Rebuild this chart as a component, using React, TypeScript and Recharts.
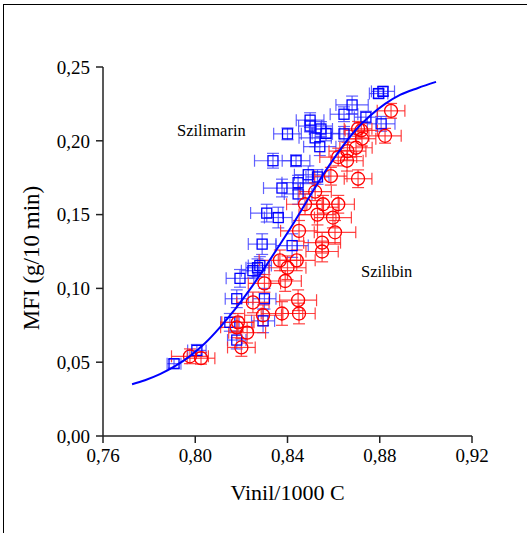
import React from 'react'
import { ScatterChart, Scatter, XAxis, YAxis, ErrorBar } from 'recharts'

// Szilimarin (kék négyzetek)
const blueX = [0.8814, 0.8795, 0.868, 0.8498, 0.8498, 0.84, 0.852, 0.8545, 0.8567, 0.854, 0.8645, 0.8645, 0.874, 0.8806,
  0.8337, 0.8437, 0.849, 0.8376, 0.8446, 0.8446, 0.853, 0.831, 0.836, 0.829, 0.842, 0.827, 0.8194, 0.818, 0.83, 0.815,
  0.8294, 0.818, 0.7908, 0.8007, 0.828, 0.825]
const blueY = [0.2335, 0.232, 0.2243, 0.214, 0.21, 0.2047, 0.202, 0.208, 0.205, 0.196, 0.218, 0.2047, 0.216, 0.2115,
  0.1865, 0.1865, 0.177, 0.168, 0.1716, 0.164, 0.1755, 0.151, 0.148, 0.13, 0.129, 0.114, 0.1068, 0.093, 0.093, 0.077,
  0.078, 0.065, 0.049, 0.058, 0.1155, 0.112]
const blueEx = [0.005, 0.004, 0.007, 0.006, 0.005, 0.006, 0.007, 0.005, 0.006, 0.007, 0.006, 0.005, 0.005, 0.006,
  0.008, 0.006, 0.006, 0.008, 0.007, 0.006, 0.005, 0.007, 0.006, 0.006, 0.007, 0.005, 0.006, 0.005, 0.005, 0.004,
  0.005, 0.004, 0.003, 0.004, 0.005, 0.005]
const blueEy = [0.003, 0.003, 0.006, 0.005, 0.004, 0.004, 0.006, 0.005, 0.005, 0.006, 0.005, 0.005, 0.004, 0.005,
  0.005, 0.004, 0.006, 0.006, 0.005, 0.007, 0.005, 0.006, 0.007, 0.007, 0.008, 0.006, 0.006, 0.006, 0.007, 0.006,
  0.008, 0.006, 0.003, 0.004, 0.006, 0.005]

// Szilibin (piros körök)
const redX = [0.8849, 0.8823, 0.8706, 0.872, 0.8723, 0.8697, 0.866, 0.862, 0.8658, 0.8588, 0.852, 0.8476, 0.8554,
  0.862, 0.853, 0.8597, 0.8606, 0.845, 0.855, 0.855, 0.844, 0.8367, 0.84, 0.839, 0.83, 0.8446, 0.825, 0.8376, 0.845,
  0.8294, 0.8185, 0.8225, 0.818, 0.82, 0.7977, 0.8025, 0.8706]
const redY = [0.2203, 0.2034, 0.1743, 0.207, 0.2014, 0.1953, 0.193, 0.189, 0.1865, 0.176, 0.1655, 0.157, 0.157,
  0.157, 0.15, 0.148, 0.138, 0.139, 0.131, 0.125, 0.119, 0.119, 0.114, 0.105, 0.1034, 0.092, 0.0905, 0.083, 0.083,
  0.0818, 0.077, 0.07, 0.0736, 0.06, 0.054, 0.0527, 0.2081]
const redEx = [0.006, 0.007, 0.006, 0.007, 0.006, 0.007, 0.008, 0.008, 0.007, 0.007, 0.007, 0.008, 0.007,
  0.007, 0.008, 0.008, 0.009, 0.008, 0.008, 0.007, 0.008, 0.009, 0.008, 0.007, 0.007, 0.008, 0.007, 0.009, 0.007,
  0.008, 0.007, 0.008, 0.007, 0.006, 0.008, 0.006, 0.006]
const redEy = [0.005, 0.005, 0.006, 0.005, 0.005, 0.006, 0.006, 0.006, 0.007, 0.006, 0.006, 0.007, 0.006,
  0.006, 0.007, 0.007, 0.008, 0.007, 0.007, 0.007, 0.007, 0.007, 0.008, 0.007, 0.006, 0.007, 0.007, 0.008, 0.007,
  0.007, 0.006, 0.007, 0.007, 0.006, 0.005, 0.004, 0.005]

// illesztett görbe
const curveX = [0.7726, 0.7782, 0.7847, 0.7912, 0.7977, 0.8042, 0.8107, 0.8172, 0.8237, 0.8302, 0.8367, 0.8433,
  0.8498, 0.8563, 0.8628, 0.8693, 0.8758, 0.8823, 0.8888, 0.8966, 0.9044]
const curveY = [0.0351, 0.0378, 0.0419, 0.0473, 0.0541, 0.0628, 0.0736, 0.0858, 0.0993, 0.1142, 0.1297, 0.1459,
  0.1628, 0.1791, 0.1939, 0.2068, 0.2169, 0.225, 0.2311, 0.2358, 0.2399]

const xTicks = [0.76, 0.8, 0.84, 0.88, 0.92]
const yTicks = [0, 0.05, 0.1, 0.15, 0.2, 0.25]

const blueData = blueX.map((x, i) => ({ x, y: blueY[i], ex: blueEx[i], ey: blueEy[i] }))
const redData = redX.map((x, i) => ({ x, y: redY[i], ex: redEx[i], ey: redEy[i] }))
const curveData = curveX.map((x, i) => ({ x, y: curveY[i] }))

const FONT = '"Liberation Serif", "Times New Roman", serif'
const fmt = (v: number) => v.toFixed(2).replace('.', ',')

const Square = (props: any) => {
  const { cx, cy } = props
  return <rect x={cx - 5} y={cy - 5} width={10} height={10} fill="none" stroke="#0000ff" strokeWidth={1.3} />
}

const Circ = (props: any) => {
  const { cx, cy } = props
  return <circle cx={cx} cy={cy} r={6.5} fill="none" stroke="#ff0000" strokeWidth={1.3} />
}

const NoDot = () => <g />

const tickStyle = { fontSize: 19, fill: '#000', fontFamily: FONT }
const axisLine = { stroke: '#222', strokeWidth: 1.5 }

export default function App() {
  return (
    <div style={{ position: 'absolute', left: 0, top: 0, width: 527, height: 533, overflow: 'hidden', background: '#fff' }}>
      <div style={{ position: 'absolute', left: 3, top: 4, width: 600, height: 600, border: '1.5px solid #000' }} />
      <div style={{ position: 'absolute', left: 0, top: 0 }}>
        <ScatterChart width={527} height={533} margin={{ top: 67, right: 55, bottom: 37, left: 3 }}>
          <XAxis
            xAxisId="b"
            type="number"
            dataKey="x"
            domain={[0.76, 0.92]}
            ticks={xTicks}
            allowDataOverflow
            tickFormatter={fmt}
            tick={tickStyle}
            tickSize={7}
            tickMargin={6}
            height={60}
            axisLine={axisLine}
            tickLine={axisLine}
            label={{
              content: () => (
                <text x={287.5} y={500} textAnchor="middle" fontSize={22} fontFamily={FONT} fill="#000">
                  Vinil/1000 C
                </text>
              )
            }}
          />
          <XAxis
            xAxisId="t"
            orientation="top"
            type="number"
            dataKey="x"
            domain={[0.76, 0.92]}
            ticks={xTicks}
            allowDataOverflow
            tick={false}
            tickSize={3}
            height={0}
            axisLine={axisLine}
            tickLine={{ stroke: '#222', strokeWidth: 1 }}
          />
          <YAxis
            yAxisId="l"
            type="number"
            dataKey="y"
            domain={[0, 0.25]}
            ticks={yTicks}
            allowDataOverflow
            tickFormatter={fmt}
            tick={tickStyle}
            tickSize={7}
            tickMargin={6}
            width={100}
            axisLine={axisLine}
            tickLine={axisLine}
            label={{
              content: () => (
                <text x={39} y={258} textAnchor="middle" fontSize={23} fontFamily={FONT} fill="#000"
                  transform="rotate(-90 39 258)">
                  MFI (g/10 min)
                </text>
              )
            }}
          />
          <YAxis
            yAxisId="r"
            orientation="right"
            type="number"
            dataKey="y"
            domain={[0, 0.25]}
            ticks={yTicks}
            allowDataOverflow
            tick={false}
            tickSize={3}
            width={0}
            axisLine={axisLine}
            tickLine={{ stroke: '#222', strokeWidth: 1 }}
          />
          <Scatter data={blueData} xAxisId="b" yAxisId="l" shape={Square} isAnimationActive={false}>
            <ErrorBar dataKey="ex" direction="x" width={6} stroke="#3b3bff" strokeOpacity={0.8} strokeWidth={1.2} />
            <ErrorBar dataKey="ey" direction="y" width={6} stroke="#3b3bff" strokeOpacity={0.8} strokeWidth={1.2} />
          </Scatter>
          <Scatter data={redData} xAxisId="b" yAxisId="l" shape={Circ} isAnimationActive={false}>
            <ErrorBar dataKey="ex" direction="x" width={6} stroke="#ff2222" strokeOpacity={0.85} strokeWidth={1.2} />
            <ErrorBar dataKey="ey" direction="y" width={6} stroke="#ff2222" strokeOpacity={0.85} strokeWidth={1.2} />
          </Scatter>
          <Scatter
            data={curveData}
            xAxisId="b"
            yAxisId="l"
            shape={NoDot}
            line={{ stroke: '#0000ff', strokeWidth: 2 }}
            lineJointType="monotoneX"
            isAnimationActive={false}
          />
        </ScatterChart>
      </div>
      <div style={{ position: 'absolute', left: 177, top: 121, fontFamily: FONT, fontSize: 16.5, color: '#000', whiteSpace: 'nowrap' }}>
        Szilimarin
      </div>
      <div style={{ position: 'absolute', left: 361, top: 262, fontFamily: FONT, fontSize: 16.5, color: '#000', whiteSpace: 'nowrap' }}>
        Szilibin
      </div>
    </div>
  )
}
